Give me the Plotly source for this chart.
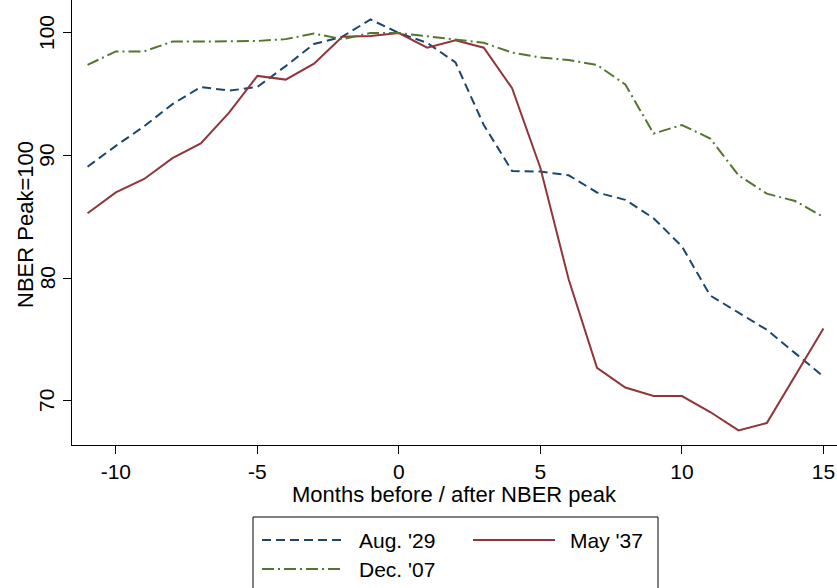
import plotly.graph_objects as go

months = list(range(-11, 16))
aug29 = [89.1, 90.8, 92.4, 94.2, 95.6, 95.3, 95.6, 97.3, 99.1, 99.7, 101.1, 100.0,
         99.2, 97.6, 92.5, 88.75, 88.7, 88.4, 87.0, 86.4, 84.9, 82.6, 78.6, 77.2, 75.8, 73.9, 72.0]
may37 = [85.3, 87.0, 88.1, 89.8, 91.0, 93.5, 96.5, 96.2, 97.5, 99.7, 99.75, 100.0,
         98.8, 99.4, 98.8, 95.5, 89.0, 79.9, 72.7, 71.1, 70.4, 70.4, 69.1, 67.6, 68.2, 72.0, 75.9]
dec07 = [97.4, 98.5, 98.5, 99.3, 99.3, 99.3, 99.35, 99.5, 99.95, 99.5, 100.0, 100.0,
         99.75, 99.5, 99.2, 98.4, 98.0, 97.8, 97.4, 95.8, 91.8, 92.5, 91.4, 88.4, 86.9, 86.3, 85.0]

series_names = ["Aug. '29", "May '37", "Dec. '07"]
colors = ["#1a476f", "#90353b", "#55752f"]
dashes = ["9px,5px", "solid", "12px,4px,2px,4px"]
xticks = [-10, -5, 0, 5, 10, 15]
xticklabels = ["-10", "-5", "0", "5", "10", "15"]
yticks = [70, 80, 90, 100]
yticklabels = ["70", "80", "90", "100"]

FONT = "Liberation Sans, Arial, Helvetica, sans-serif"
FS = 21

fig = go.Figure()
for name, ys, c, d in zip(series_names, [aug29, may37, dec07], colors, dashes):
    fig.add_trace(go.Scatter(x=months, y=ys, mode="lines", name=name,
                             line=dict(color=c, width=2, dash=d), showlegend=False))

W, H = 837, 588
L, R, T, B = 72, 0, 0, 143
pw, ph = W - L - R, H - T - B

def px(x):
    return (x - L) / pw

def py(y):
    return (H - B - y) / ph

shapes = [dict(type="rect", xref="paper", yref="paper", x0=px(253), x1=px(658),
               y0=py(600), y1=py(517), line=dict(color="black", width=1), fillcolor="white", layer="above")]
annotations = []
legend_pos = [(262, 343, 357, 540), (473, 555, 568, 540), (262, 343, 357, 569)]
for (lx0, lx1, tx, ty), name, c, d in zip(legend_pos, series_names, colors, dashes):
    shapes.append(dict(type="line", xref="paper", yref="paper", x0=px(lx0), x1=px(lx1),
                       y0=py(ty), y1=py(ty), line=dict(color=c, width=2, dash=d)))
    annotations.append(dict(text=name, xref="paper", yref="paper", x=px(tx), y=py(ty),
                            xanchor="left", yanchor="middle", showarrow=False,
                            font=dict(size=FS, color="black", family=FONT)))

# y tick labels (rotated, Stata style)
for v, t in zip(yticks, yticklabels):
    annotations.append(dict(text=t, xref="paper", yref="y", x=px(47), y=v, textangle=-90,
                            xanchor="center", yanchor="middle", showarrow=False,
                            font=dict(size=FS, color="black", family=FONT)))

# axis titles
annotations.append(dict(text="Months before / after NBER peak", xref="paper", yref="paper",
                        x=px(454), y=py(494), xanchor="center", yanchor="middle", showarrow=False,
                        font=dict(size=22, color="black", family=FONT)))
annotations.append(dict(text="NBER Peak=100", xref="paper", yref="paper", textangle=-90,
                        x=px(25), y=py(225), xanchor="center", yanchor="middle", showarrow=False,
                        font=dict(size=22, color="black", family=FONT)))

fig.update_layout(
    width=W, height=H,
    margin=dict(l=L, r=R, t=T, b=B, pad=0),
    paper_bgcolor="white", plot_bgcolor="white",
    font=dict(family=FONT, size=FS, color="black"),
    shapes=shapes, annotations=annotations,
    xaxis=dict(range=[-11.55, 15.48], tickvals=xticks, ticktext=xticklabels,
               ticks="outside", ticklen=8, automargin=False,
               tickcolor="black", showline=True, linecolor="black", linewidth=1.3,
               showgrid=False, zeroline=False),
    yaxis=dict(range=[66.41, 102.69], tickvals=yticks, showticklabels=False,
               ticks="outside", ticklen=8, automargin=False,
               tickcolor="black", showline=True, linecolor="black", linewidth=1.3,
               showgrid=False, zeroline=False),
)

fig.write_html("out.html", config={"displayModeBar": False},
               post_script="document.body.style.margin='0';document.body.style.overflow='hidden';")
